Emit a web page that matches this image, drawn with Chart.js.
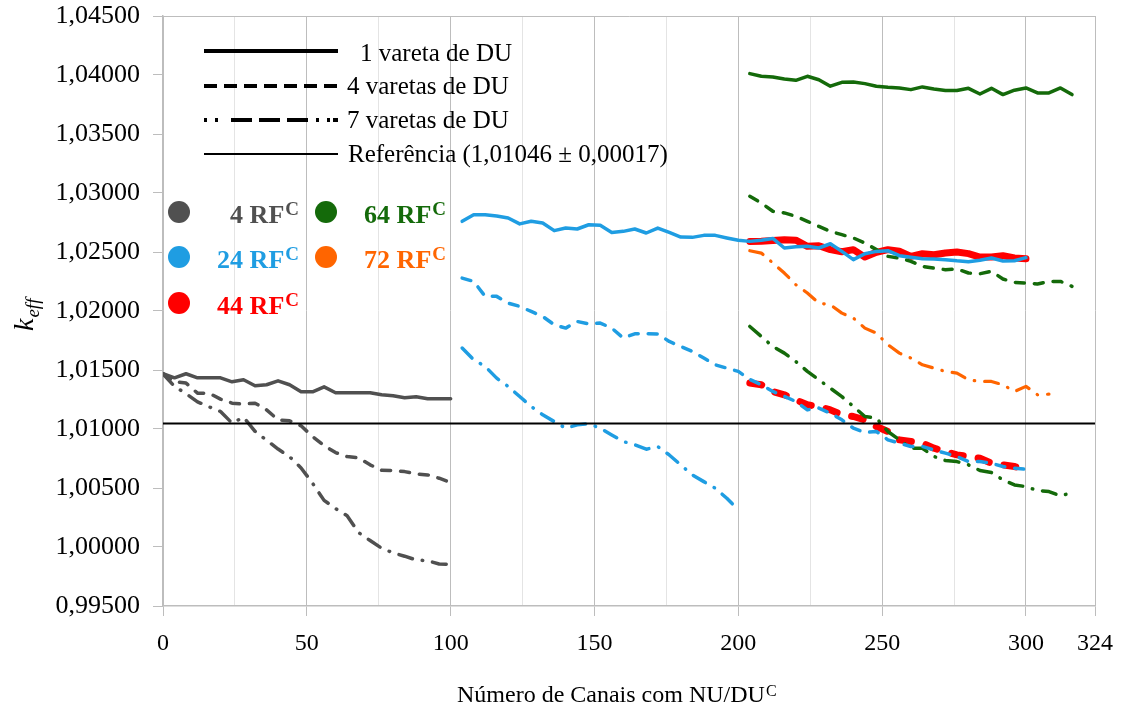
<!DOCTYPE html>
<html lang="pt">
<head>
<meta charset="UTF-8">
<title>keff x Número de Canais com NU/DU</title>
<script src="https://cdn.jsdelivr.net/npm/chart.js"></script>
<style>
  body { margin: 0; background: #fff; }
  #wrap { width: 1122px; height: 707px; }
</style>
</head>
<body>
<div id="wrap"><canvas id="keffChart" width="1122" height="707"></canvas></div>
<script>
// number of channels with NU/DU (x positions of each group)
const x4RF   = [0,4,8,12,16,20,24,28,32,36,40,44,48,52,56,60,64,68,72,76,80,84,88,92,96,100];
const x24RF  = [104,108,112,116,120,124,128,132,136,140,144,148,152,156,160,164,168,172,176,180,184,188,192,196,200,
                204,208,212,216,220,224,228,232,236,240,244,248,252,256,260,264,268,272,276,280,284,288,292,296,300];
const x24RF7 = [104,108,112,116,120,124,128,132,136,140,144,148,152,156,160,164,168,172,176,180,184,188,192,196,200];
const x44RF  = [204,208,212,216,220,224,228,232,236,240,244,248,252,256,260,264,268,272,276,280,284,288,292,296,300];
const x64RF  = [204,208,212,216,220,224,228,232,236,240,244,248,252,256,260,264,268,272,276,280,284,288,292,296,300,304,308,312,316];
const x72RF  = [204,208,212,216,220,224,228,232,236,240,244,248,252,256,260,264,268,272,276,280,284,288,292,296,300,304,308];

// keff, 4 RF^C
const rf4_1 = [1.01468,1.01434,1.01468,1.01434,1.01434,1.01434,1.01400,1.01417,1.01366,1.01375,1.01408,1.01375,1.01315,
               1.01315,1.01357,1.01307,1.01307,1.01307,1.01307,1.01290,1.01281,1.01264,1.01273,1.01256,1.01256,1.01256];
const rf4_4 = [1.01468,1.01400,1.01389,1.01304,1.01304,1.01253,1.01219,1.01211,1.01219,1.01162,1.01078,1.01069,1.01027,
               1.00936,1.00860,1.00800,1.00766,1.00755,1.00696,1.00650,1.00648,1.00639,1.00620,1.00611,1.00583,1.00546];
const rf4_7 = [1.01468,1.01360,1.01300,1.01230,1.01188,1.01148,1.01050,1.01100,1.00980,1.00905,1.00830,1.00765,1.00670,
               1.00540,1.00395,1.00325,1.00265,1.00122,1.00055,0.99990,0.99950,0.99922,0.99890,0.99884,0.99856,0.99852];

// keff, 24 RF^C
const rf24_1 = [1.02760,1.02816,1.02816,1.02805,1.02788,1.02738,1.02760,1.02746,1.02681,1.02703,1.02695,1.02731,1.02726,
                1.02666,1.02675,1.02695,1.02661,1.02703,1.02666,1.02627,1.02624,1.02641,1.02641,1.02619,1.02599,
                1.02590,1.02600,1.02615,1.02534,1.02545,1.02548,1.02534,1.02570,1.02505,1.02435,1.02485,1.02505,1.02511,
                1.02469,1.02455,1.02443,1.02440,1.02435,1.02425,1.02418,1.02430,1.02449,1.02424,1.02426,1.02452];
const rf24_4 = [1.02279,1.02251,1.02124,1.02124,1.02067,1.02039,1.01996,1.01954,1.01883,1.01855,1.01911,1.01891,1.01898,
                1.01855,1.01771,1.01807,1.01807,1.01805,1.01742,1.01700,1.01658,1.01601,1.01544,1.01516,1.01488,
                1.01420,1.01375,1.01318,1.01276,1.01233,1.01162,1.01177,1.01134,1.01078,1.01007,1.00971,1.00979,1.00908,
                1.00880,1.00852,1.00852,1.00823,1.00795,1.00767,1.00724,1.00724,1.00710,1.00682,1.00667,1.00659];
const rf24_7 = [1.01686,1.01587,1.01530,1.01431,1.01360,1.01275,1.01191,1.01120,1.01063,1.01007,1.01035,1.01044,1.01007,
                1.00950,1.00894,1.00866,1.00829,1.00851,1.00780,1.00696,1.00611,1.00554,1.00498,1.00413,1.00314];

// keff, 44 RF^C
const rf44_1 = [1.02590,1.02592,1.02598,1.02604,1.02600,1.02548,1.02553,1.02520,1.02502,1.02520,1.02457,1.02497,1.02520,
                1.02506,1.02463,1.02486,1.02477,1.02492,1.02500,1.02486,1.02457,1.02457,1.02469,1.02449,1.02443];
const rf44_4 = [1.01389,1.01375,1.01318,1.01290,1.01247,1.01205,1.01191,1.01162,1.01120,1.01106,1.01078,1.01021,1.00979,
                1.00908,1.00894,1.00880,1.00837,1.00809,1.00781,1.00767,1.00752,1.00710,1.00696,1.00682,1.00659];

// keff, 64 RF^C
const rf64_1 = [1.04012,1.03989,1.03983,1.03966,1.03955,1.03989,1.03960,1.03905,1.03938,1.03941,1.03927,1.03905,1.03896,
                1.03890,1.03876,1.03899,1.03882,1.03868,1.03868,1.03887,1.03839,1.03887,1.03834,1.03871,1.03890,
                1.03848,1.03848,1.03890,1.03834];
const rf64_4 = [1.02972,1.02915,1.02845,1.02831,1.02802,1.02760,1.02717,1.02675,1.02647,1.02619,1.02576,1.02520,1.02463,
                1.02449,1.02421,1.02378,1.02364,1.02350,1.02356,1.02322,1.02316,1.02336,1.02271,1.02243,1.02237,
                1.02229,1.02251,1.02251,1.02209];
const rf64_7 = [1.01869,1.01784,1.01699,1.01643,1.01572,1.01488,1.01417,1.01346,1.01275,1.01191,1.01106,1.01092,1.00979,
                1.00908,1.00837,1.00837,1.00767,1.00733,1.00724,1.00696,1.00648,1.00631,1.00569,1.00526,1.00512,
                1.00478,1.00470,1.00433,1.00461];

// keff, 72 RF^C
const rf72_7 = [1.02511,1.02491,1.02407,1.02322,1.02223,1.02152,1.02067,1.02053,1.01982,1.01940,1.01855,1.01813,1.01714,
                1.01643,1.01601,1.01544,1.01516,1.01488,1.01474,1.01417,1.01403,1.01403,1.01375,1.01318,1.01361,
                1.01290,1.01295];

// reference keff
const refX = [0, 324];
const refY = [1.01046, 1.01046];

const xTicks = [0,25,50,75,100,125,150,175,200,225,250,275,300,324];
const yTicks = [0.995,1.000,1.005,1.010,1.015,1.020,1.025,1.030,1.035,1.040,1.045];

const GRAY = '#505050', BLUE = '#1f9de2', RED = '#ff0000', GREEN = '#146a0a', ORANGE = '#ff6500';
const FONT = '"Liberation Serif", "Times New Roman", serif';

const dashes = {
    solid: [],
    dashed: [9, 10],
    dashdot: [14, 10, 0.5, 10]
};

function series(xs, ys, color, style, width) {
    return {
        data: xs.map((x, i) => ({ x: x, y: ys[i] })),
        borderColor: color,
        borderWidth: width || 3.5,
        borderDash: dashes[style],
        borderCapStyle: 'round',
        borderJoinStyle: 'round',
        pointRadius: 0,
        fill: false,
        tension: 0
    };
}

const datasets = [
    series(refX, refY, '#000000', 'solid', 2),
    series(x24RF, rf24_1, BLUE, 'solid'),
    series(x24RF, rf24_4, BLUE, 'dashed'),
    series(x24RF7, rf24_7, BLUE, 'dashdot'),
    series(x64RF, rf64_1, GREEN, 'solid'),
    series(x64RF, rf64_4, GREEN, 'dashed'),
    series(x64RF, rf64_7, GREEN, 'dashdot'),
    series(x4RF, rf4_1, GRAY, 'solid'),
    series(x4RF, rf4_4, GRAY, 'dashed'),
    series(x4RF, rf4_7, GRAY, 'dashdot'),
    series(x72RF, rf72_7, ORANGE, 'dashdot', 3.2),
    series(x44RF, rf44_1, RED, 'solid', 7),
    Object.assign(series(x44RF, rf44_4, RED, 'dashed', 7), { borderDash: [12, 15] })
];

// text with superscript, left or right aligned
function supText(c, text, sup, x, y, font, supFont, rise, align) {
    c.font = font;
    const w1 = c.measureText(text).width;
    c.font = supFont;
    const w2 = c.measureText(sup).width;
    const x0 = align === 'right' ? x - w1 - w2 : x;
    c.textAlign = 'left';
    c.font = font;
    c.fillText(text, x0, y);
    c.font = supFont;
    c.fillText(sup, x0 + w1 + 1, y - rise);
}

const overlay = {
    id: 'overlay',
    afterDraw(chart) {
        const c = chart.ctx;
        c.save();
        c.textBaseline = 'alphabetic';

        // line style legend
        const rows = [
            { y: 51, dash: [], w: 4, label: '1 vareta de DU', tx: 360, ty: 61 },
            { y: 86, dash: [13, 7], w: 4, label: '4 varetas de DU', tx: 347, ty: 94 },
            { y: 120, dash: [3, 8, 3, 13, 21, 7, 21, 7, 21, 8, 3, 8, 3], w: 4, label: '7 varetas de DU', tx: 347, ty: 128 },
            { y: 154, dash: [], w: 2, label: 'Referência (1,01046 ± 0,00017)', tx: 348, ty: 162 }
        ];
        rows.forEach(r => {
            c.beginPath();
            c.strokeStyle = '#000';
            c.lineWidth = r.w;
            c.lineCap = 'butt';
            c.setLineDash(r.dash);
            c.moveTo(204, r.y);
            c.lineTo(338, r.y);
            c.stroke();
            c.setLineDash([]);
            c.fillStyle = '#000';
            c.font = '25px ' + FONT;
            c.textAlign = 'left';
            c.fillText(r.label, r.tx, r.ty);
        });

        // colour legend
        const items = [
            { cx: 179, cy: 212, color: GRAY, label: '4 RF', right: 298 },
            { cx: 179, cy: 257, color: BLUE, label: '24 RF', right: 298 },
            { cx: 179, cy: 303, color: RED, label: '44 RF', right: 298 },
            { cx: 326, cy: 212, color: GREEN, label: '64 RF', right: 445 },
            { cx: 326, cy: 257, color: ORANGE, label: '72 RF', right: 445 }
        ];
        items.forEach(it => {
            c.beginPath();
            c.fillStyle = it.color;
            c.arc(it.cx, it.cy, 11, 0, Math.PI * 2);
            c.fill();
            supText(c, it.label, 'C', it.right, it.cy + 11, 'bold 26px ' + FONT, 'bold 19px ' + FONT, 8, 'right');
        });

        // y axis title k_eff
        c.fillStyle = '#000';
        c.translate(33, 331);
        c.rotate(-Math.PI / 2);
        c.font = 'italic 28px ' + FONT;
        c.textAlign = 'left';
        c.fillText('k', 0, 0);
        const kw = c.measureText('k').width;
        c.font = 'italic 19px ' + FONT;
        c.fillText('eff', kw + 1, 6);
        c.setTransform(1, 0, 0, 1, 0, 0);

        // x axis title
        c.fillStyle = '#000';
        supText(c, 'Número de Canais com NU/DU', 'C', 457, 702, '24px ' + FONT, '16px ' + FONT, 6, 'left');
        c.restore();
    }
};

new Chart(document.getElementById('keffChart'), {
    type: 'line',
    data: { datasets: datasets },
    options: {
        responsive: false,
        animation: false,
        layout: { padding: { top: 16, right: 27, left: 0, bottom: 0 } },
        plugins: { legend: { display: false }, tooltip: { enabled: false } },
        scales: {
            x: {
                type: 'linear',
                min: 0,
                max: 324,
                afterBuildTicks: s => { s.ticks = xTicks.map(v => ({ value: v })); },
                afterFit: s => { s.height = 101; s.paddingLeft = 0; s.paddingRight = 0; },
                ticks: {
                    autoSkip: false,
                    maxRotation: 0,
                    padding: 13,
                    color: '#000',
                    font: { family: FONT, size: 24 },
                    callback: v => (v % 50 === 0 || v === 324) ? String(v) : ''
                },
                grid: {
                    color: ctx => (ctx.tick && (ctx.tick.value % 50 === 0 || ctx.tick.value === 324)) ? '#bdbdbd' : '#e4e4e4',
                    tickColor: ctx => (ctx.tick && (ctx.tick.value % 50 === 0 || ctx.tick.value === 324)) ? '#bdbdbd' : 'rgba(0,0,0,0)',
                    tickLength: 10
                },
                border: { color: '#bdbdbd', width: 1.5 }
            },
            y: {
                type: 'linear',
                min: 0.995,
                max: 1.045,
                afterBuildTicks: s => { s.ticks = yTicks.map(v => ({ value: v })); },
                afterFit: s => { s.width = 163; s.paddingTop = 0; s.paddingBottom = 0; },
                ticks: {
                    padding: 13,
                    color: '#000',
                    font: { family: FONT, size: 26 },
                    callback: v => v.toFixed(5).replace('.', ',')
                },
                grid: {
                    color: ctx => (ctx.tick && Math.abs(ctx.tick.value - 1.045) < 1e-9) ? '#bdbdbd' : 'rgba(0,0,0,0)',
                    tickColor: '#bdbdbd',
                    tickLength: 10
                },
                border: { color: '#bdbdbd', width: 1.5 }
            }
        }
    },
    plugins: [overlay]
});
</script>
</body>
</html>
